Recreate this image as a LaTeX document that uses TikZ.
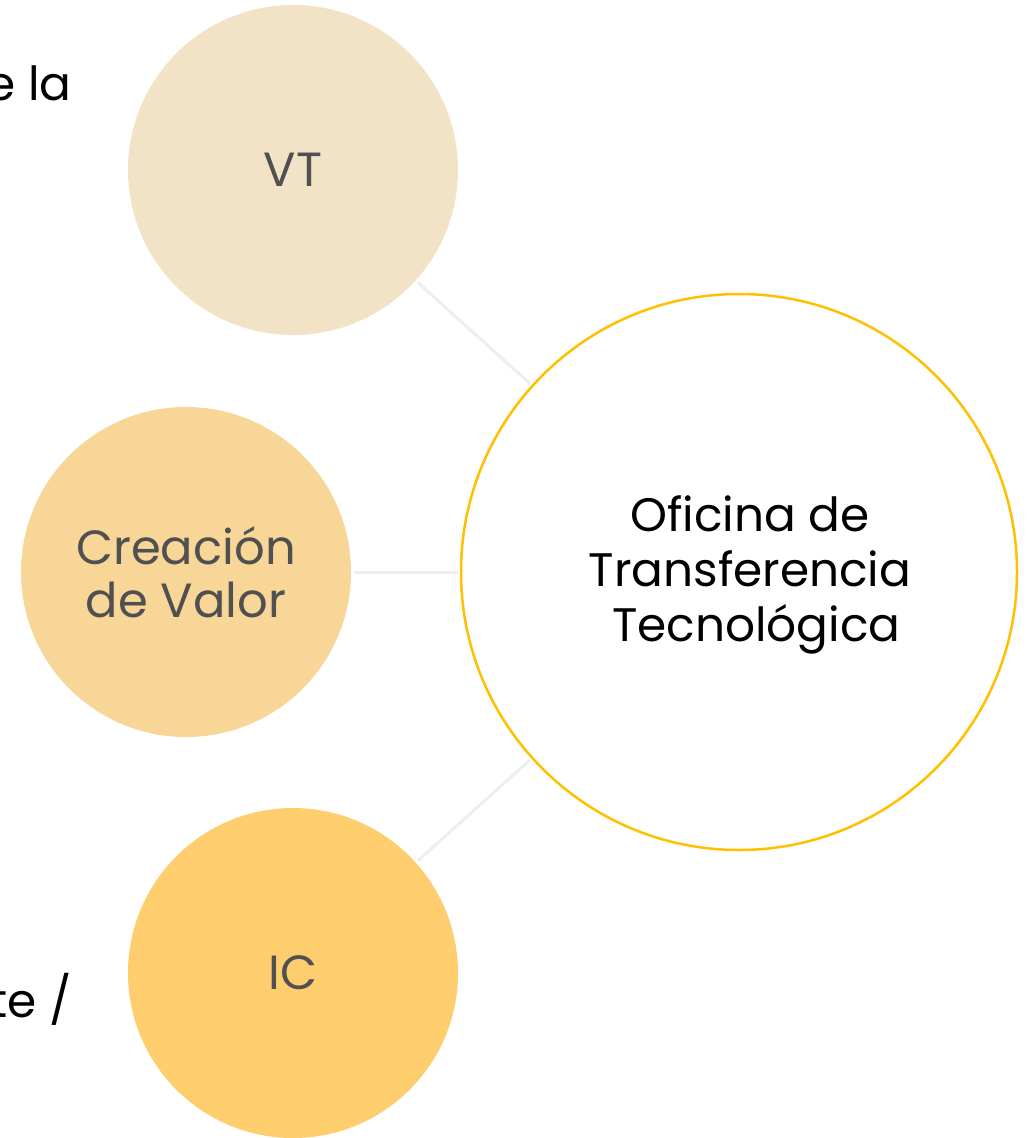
\documentclass[tikz,border=0pt]{standalone}
\usepackage{fontspec}
\setmainfont{Poppins}
\definecolor{vtfill}{HTML}{F2E3C6}
\definecolor{cvfill}{HTML}{F7D697}
\definecolor{icfill}{HTML}{FECD6E}
\definecolor{ottline}{HTML}{FFC000}
\definecolor{linkgray}{HTML}{EEEEEE}
\definecolor{txtgray}{HTML}{505050}
\begin{document}
\begin{tikzpicture}[x=1pt,y=-1pt,
  smallcirc/.style={circle,minimum size=330pt,inner sep=0pt,outer sep=3pt,text=txtgray,
    font=\fontsize{48}{53}\selectfont,align=center},
  bigcirc/.style={circle,draw=ottline,line width=2.5pt,fill=white,minimum size=556pt,inner sep=0pt,outer sep=3pt},
  link/.style={draw=linkgray,line width=3pt},
  sidetext/.style={font=\fontsize{47}{53}\selectfont,text=black,inner sep=0pt,anchor=base east}]
\useasboundingbox (0,0) rectangle (1028,1138);
\clip (0,0) rectangle (1028,1138);
\node[smallcirc,fill=vtfill] (vt) at (293,170) {VT};
\node[smallcirc,fill=cvfill] (cv) at (186,572) {Creación\\de Valor};
\node[smallcirc,fill=icfill] (ic) at (293,973) {IC};
\node[bigcirc] (ott) at (739,572) {};
\node[font=\fontsize{47}{55}\selectfont,align=center,text=black,inner sep=0pt] (otttext) at (750,575) {Oficina de\\Transferencia\\\ Tecnológica};
\draw[link] (vt) -- (ott);
\draw[link] (cv) -- (ott);
\draw[link] (ic) -- (ott);
\node[sidetext] (t1) at (72,100) {e la};
\node[sidetext] (t2) at (72,1017) {te /};
\end{tikzpicture}
\end{document}
